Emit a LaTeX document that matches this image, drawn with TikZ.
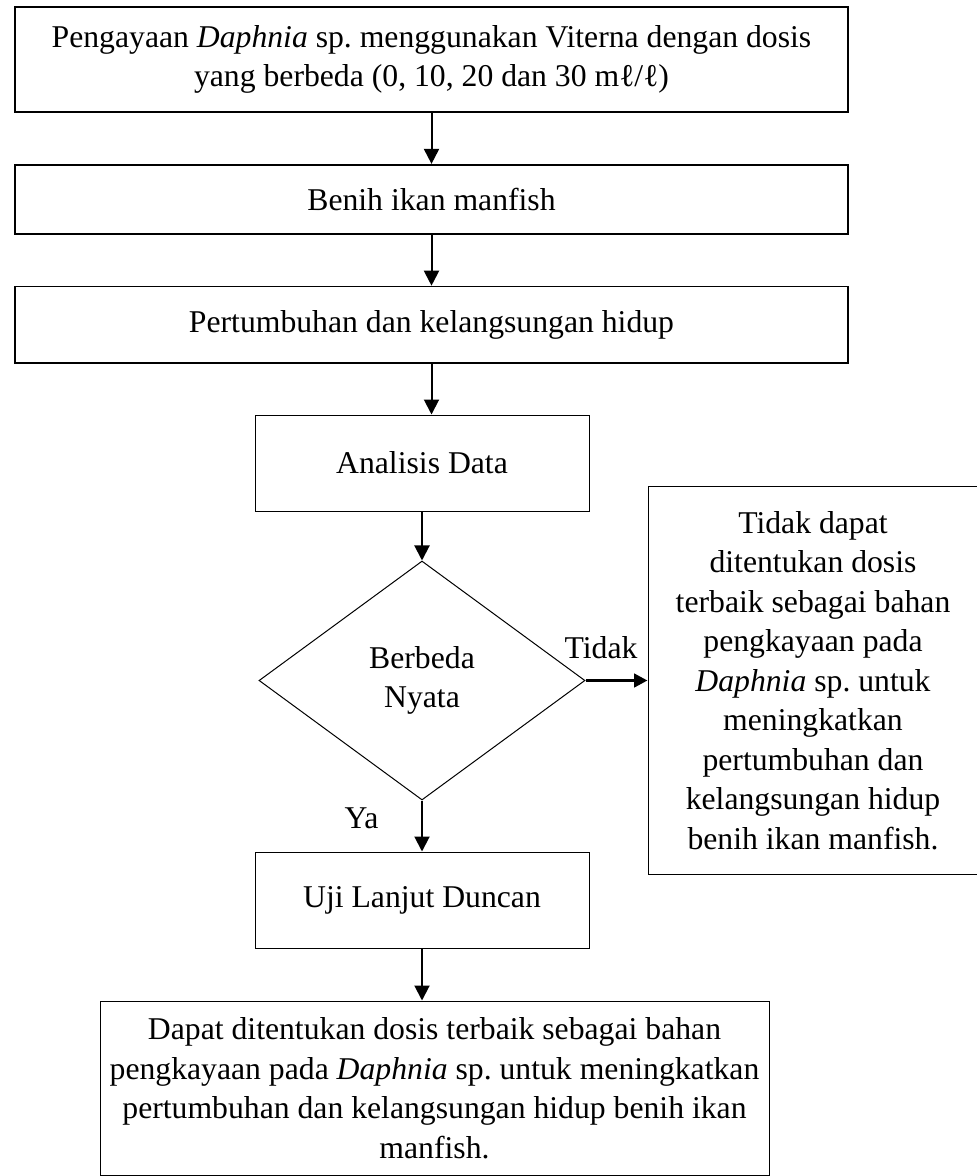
\documentclass[tikz,border=0pt]{standalone}
\usepackage{fontspec}
\setmainfont{Liberation Serif}
\usetikzlibrary{shapes.geometric, positioning, arrows.meta}
\frenchspacing

\begin{document}
\begin{tikzpicture}
	[x=1pt, y=1pt, node distance=25.5pt,
	 >={Triangle[length=7.5pt, width=7.5pt]},
	 font=\fontsize{15.85}{19.75}\selectfont,
	 box/.style={draw, rectangle, align=center, inner sep=0pt},
	 tebal/.style={box, line width=0.9pt},
	 tipis/.style={box, line width=0.5pt},
	 panah/.style={->, line width=1pt}]
   \useasboundingbox (0,0) rectangle (488,-588);
   \node[tebal, minimum width=416.5pt, minimum height=52.5pt] (pengayaan) at (215.75,-29.75)
        {Pengayaan \textit{Daphnia} sp. menggunakan Viterna dengan dosis\\ yang berbeda (0, 10, 20 dan 30 mℓ/ℓ)};
   \node[tebal, minimum width=416.5pt, minimum height=34.5pt] (benih) [below=of pengayaan] {Benih ikan manfish};
   \node[tebal, minimum width=416.5pt, minimum height=38pt] (tumbuh) [below=of benih] {Pertumbuhan dan kelangsungan hidup};
   \node[tipis, minimum width=167pt, minimum height=48pt] (analisis) [below=of tumbuh, xshift=-4.75pt] {Analisis Data};
   \node[diamond, draw, line width=0.5pt, align=center, inner sep=0pt,
         minimum width=163pt, minimum height=119.5pt] (beda) [below=24.5pt of analisis] {Berbeda\\ Nyata};
   \node[tipis, minimum width=165pt, minimum height=194pt] (tidak) [right=31pt of beda]
        {Tidak dapat\\ ditentukan dosis\\ terbaik sebagai bahan\\ pengkayaan pada\\ \textit{Daphnia} sp. untuk\\ meningkatkan\\ pertumbuhan dan\\ kelangsungan hidup\\ benih ikan manfish.};
   \node[tipis, minimum width=167pt, minimum height=48pt] (duncan) [below=of beda] {Uji Lanjut Duncan};
   \node[tipis, minimum width=334.5pt, minimum height=87pt] (dapat) [below=26pt of duncan, xshift=6.25pt]
        {Dapat ditentukan dosis terbaik sebagai bahan\\ pengkayaan pada \textit{Daphnia} sp. untuk meningkatkan\\ pertumbuhan dan kelangsungan hidup benih ikan\\ manfish.};
    \path[panah]
    (pengayaan) edge (benih)
    (benih) edge (tumbuh)
    (tumbuh.south) edge (tumbuh.south |- analisis.north)
    (analisis) edge (beda)
    (beda) edge node[pos=0.35, left=18pt] {Ya} (duncan)
    (duncan.south) edge (duncan.south |- dapat.north);
    \path[->, line width=1.6pt, >={Triangle[length=6.7pt, width=6.7pt]}]
    (beda) edge node[pos=0.25, above=6.5pt] {Tidak} (tidak);
\end{tikzpicture}
\end{document}
